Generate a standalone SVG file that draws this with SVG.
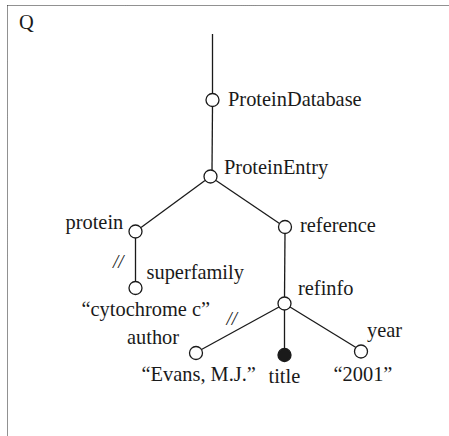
<svg xmlns="http://www.w3.org/2000/svg" width="449" height="436" viewBox="0 0 449 436">
<style>
.t{font-family:"Liberation Serif","Times New Roman",serif;font-size:20.4px;fill:#1a1a1a}
.s{font-family:"Liberation Serif","Times New Roman",serif;font-size:19px;font-style:italic;fill:#1a1a1a}
.e{stroke:#1a1a1a;stroke-width:1.3;fill:none}
.n{fill:#fff;stroke:#1a1a1a;stroke-width:1.3}
.f{fill:#1a1a1a;stroke:#1a1a1a;stroke-width:1.3}
.b{stroke:#222;stroke-width:1;stroke-dasharray:1 1;fill:none}
</style>
<rect width="449" height="436" fill="#fff"/>
<g id="frame">
<line class="b" x1="7.5" y1="5.5" x2="449" y2="5.5"/>
<line class="b" x1="7.5" y1="5.5" x2="7.5" y2="436"/>
<text class="t" x="19" y="29">Q</text>
</g>
<g id="connectors">
<line class="e" x1="212.5" y1="34" x2="212.5" y2="93.5"/>
<line class="e" x1="212.5" y1="106.5" x2="212" y2="170"/>
<line class="e" x1="205" y1="180.5" x2="141" y2="227.5"/>
<line class="e" x1="216" y1="180.5" x2="279.5" y2="223.5"/>
<line class="e" x1="135.5" y1="238" x2="135.5" y2="281.5"/>
<line class="e" x1="285" y1="233.5" x2="284.5" y2="297"/>
<line class="e" x1="279" y1="307" x2="201.5" y2="349.5"/>
<line class="e" x1="284.5" y1="310" x2="284.5" y2="349"/>
<line class="e" x1="290" y1="307" x2="356" y2="347.5"/>
<text class="s" x="113" y="268">//</text>
<text class="s" x="226.5" y="325">//</text>
</g>
<g id="n-ProteinDatabase">
<circle class="n" cx="212.5" cy="100" r="6.5"/>
<text class="t" x="228" y="106">ProteinDatabase</text>
</g>
<g id="n-ProteinEntry">
<circle class="n" cx="210.5" cy="176.5" r="6.5"/>
<text class="t" x="224" y="173.5">ProteinEntry</text>
</g>
<g id="n-protein">
<circle class="n" cx="135.5" cy="231.5" r="6.5"/>
<text class="t" x="65.5" y="229">protein</text>
</g>
<g id="n-reference">
<circle class="n" cx="285" cy="227" r="6.5"/>
<text class="t" x="300" y="232">reference</text>
</g>
<g id="n-superfamily">
<circle class="n" cx="135.5" cy="288" r="6.5"/>
<text class="t" x="146.5" y="279">superfamily</text>
<text class="t" x="81.5" y="316">“cytochrome c”</text>
</g>
<g id="n-refinfo">
<circle class="n" cx="284.5" cy="303.5" r="6.5"/>
<text class="t" x="298" y="295">refinfo</text>
</g>
<g id="n-author">
<circle class="n" cx="196" cy="353" r="6.5"/>
<text class="t" x="127" y="344">author</text>
<text class="t" x="141.5" y="381">“Evans, M.J.”</text>
</g>
<g id="n-title">
<circle class="f" cx="284.5" cy="355" r="6.5"/>
<text class="t" x="268.5" y="382.5">title</text>
</g>
<g id="n-year">
<circle class="n" cx="361" cy="351.5" r="6.5"/>
<text class="t" x="367" y="337">year</text>
<text class="t" x="333.5" y="380.5">“2001”</text>
</g>
</svg>
